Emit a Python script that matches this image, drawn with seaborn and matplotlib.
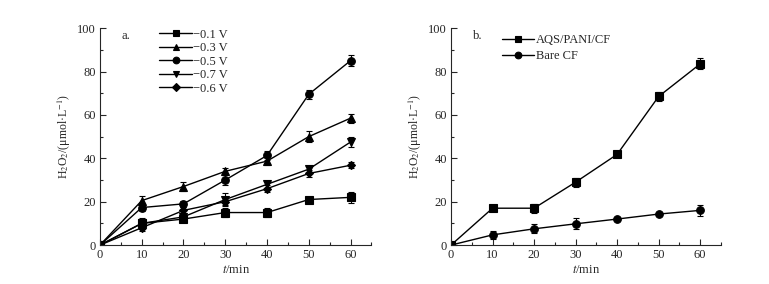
import numpy as np
import matplotlib.pyplot as plt
import seaborn as sns
import pandas as pd
from matplotlib.ticker import MultipleLocator

time_min = [0, 10, 20, 30, 40, 50, 60]

# panel a: different potentials
labels_a = ['−0.1 V', '−0.3 V', '−0.5 V', '−0.7 V', '−0.6 V']
v01 = [0, 10.0, 12.0, 15.0, 15.0, 21.0, 22.0]
v03 = [0, 20.5, 27.0, 34.0, 38.7, 50.0, 58.5]
v05 = [0, 17.3, 19.0, 30.0, 41.3, 69.5, 85.0]
v07 = [0, 10.0, 13.0, 21.0, 28.0, 35.0, 47.5]
v06 = [0, 8.0, 16.0, 20.0, 26.0, 33.0, 36.8]
err01 = [0, 2.0, 1.5, 2.0, 2.0, 1.2, 2.5]
err03 = [0, 2.0, 2.0, 1.5, 2.0, 2.5, 2.0]
err05 = [0, 1.5, 1.5, 2.5, 2.0, 2.0, 2.5]
err07 = [0, 2.5, 1.5, 3.0, 1.5, 1.5, 2.5]
err06 = [0, 1.5, 1.5, 1.5, 1.5, 1.5, 1.5]

# panel b: electrodes
labels_b = ['AQS/PANI/CF', 'Bare CF']
aqs = [0, 17.0, 17.0, 29.0, 41.8, 68.5, 83.5]
bare = [0, 4.7, 7.5, 9.8, 12.0, 14.3, 16.0]
err_aqs = [0, 1.0, 2.0, 2.0, 1.0, 2.0, 2.5]
err_bare = [0, 2.0, 2.0, 2.5, 1.0, 1.0, 2.5]

series_a = [v01, v03, v05, v07, v06]
errs_a = [err01, err03, err05, err07, err06]
markers_a = ['s', '^', 'o', 'v', 'D']
series_b = [aqs, bare]
errs_b = [err_aqs, err_bare]
markers_b = ['s', 'o']

MS = 5.5
MS_D = 4.2

sns.set_style('ticks')
plt.rcParams['font.family'] = ['Liberation Serif', 'DejaVu Serif']
plt.rcParams['mathtext.fontset'] = 'stix'
plt.rcParams['font.size'] = 9

fig = plt.figure(figsize=(7.69, 2.84), dpi=100)
ax_a = fig.add_axes([0.130, 0.137, 0.353, 0.764])
ax_b = fig.add_axes([0.5865, 0.137, 0.351, 0.764])


def fix_sizes(lines, ms=MS, ms_d=MS_D):
    for ln in lines:
        if ln.get_marker() == 'D':
            ln.set_markersize(ms_d)
        elif ln.get_marker() not in (None, 'None', ''):
            ln.set_markersize(ms)
        ln.set_markeredgewidth(0.8)


def draw(ax, labels, series, errs, markers):
    rows = []
    for lab, ys in zip(labels, series):
        for t, y in zip(time_min, ys):
            rows.append({'t': t, 'y': y, 'series': lab})
    df = pd.DataFrame(rows)
    sns.lineplot(data=df, x='t', y='y', style='series', style_order=labels,
                 markers=dict(zip(labels, markers)), dashes=False, color='black',
                 linewidth=1.0, markersize=MS, markeredgecolor='black', ax=ax)
    fix_sizes(ax.lines)
    for ys, e in zip(series, errs):
        ax.errorbar(time_min, ys, yerr=e, fmt='none', ecolor='black',
                    elinewidth=0.8, capsize=2, capthick=0.8, zorder=1.5)
    ax.set_xlim(0, 65)
    ax.set_ylim(0, 100)
    ax.xaxis.set_major_locator(MultipleLocator(10))
    ax.xaxis.set_minor_locator(MultipleLocator(5))
    ax.yaxis.set_major_locator(MultipleLocator(20))
    ax.yaxis.set_minor_locator(MultipleLocator(10))
    ax.tick_params(which='both', direction='in', labelsize=9)
    ax.tick_params(which='major', length=4, width=0.8, pad=3)
    ax.tick_params(which='minor', length=2, width=0.8)
    for s in ['top', 'right']:
        ax.spines[s].set_visible(False)
    for s in ['left', 'bottom']:
        ax.spines[s].set_linewidth(0.8)
    ax.set_xlabel('$t$/min', fontsize=9, labelpad=2)
    ax.set_ylabel('H$_2$O$_2$/(μmol·L$^{-1}$)', fontsize=8.5, labelpad=3)


draw(ax_a, labels_a, series_a, errs_a, markers_a)
draw(ax_b, labels_b, series_b, errs_b, markers_b)

leg_a = ax_a.legend(loc='upper left', bbox_to_anchor=(0.2, 1.02), frameon=False,
                    fontsize=9, handlelength=2.6, handletextpad=0.1,
                    labelspacing=0.12, borderaxespad=0)
fix_sizes(leg_a.legend_handles, 4.8, 3.8)
leg_b = ax_b.legend(loc='upper left', bbox_to_anchor=(0.17, 0.995), frameon=False,
                    fontsize=9, handlelength=2.6, handletextpad=0.1,
                    labelspacing=0.3, borderaxespad=0)
fix_sizes(leg_b.legend_handles, 4.8, 3.8)

ax_a.text(0.08, 0.95, 'a.', transform=ax_a.transAxes, fontsize=9)
ax_b.text(0.08, 0.95, 'b.', transform=ax_b.transAxes, fontsize=9)

fig.savefig('out.png', dpi=100)
